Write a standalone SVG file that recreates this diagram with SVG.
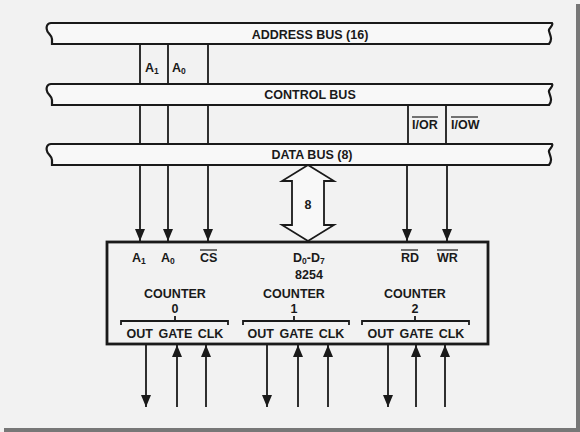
<svg xmlns="http://www.w3.org/2000/svg" width="580" height="432" viewBox="0 0 580 432">
<defs>
<style>
text{font-family:"Liberation Sans",Arial,sans-serif;font-weight:bold;fill:#1a1a1a;font-size:12.5px}
.c{text-anchor:middle}
.bus{fill:#f8f8f8;stroke:#1a1a1a;stroke-width:2.2}
.ln{stroke:#1a1a1a;stroke-width:1.8;fill:none}
.ov{stroke:#1a1a1a;stroke-width:1.2}
.sub{font-size:8.5px}
</style>
<marker id="ah" viewBox="0 0 12 12" refX="12" refY="6" markerWidth="12" markerHeight="12" markerUnits="userSpaceOnUse" orient="auto">
<path d="M0,1 L12,6 L0,11 Z" fill="#1a1a1a"/>
</marker>
</defs>
<rect width="580" height="432" fill="#f2f2f2"/>
<rect x="576" y="4" width="4" height="428" fill="#777"/>
<rect x="4" y="428" width="576" height="4" fill="#777"/>

<g id="address-bus">
<path class="bus" d="M51,23 L552,23 C554,26 548,28 549,31 C550,35 553,39 549,44 L52,44 L52,39 C52,35 47,33 47,30 C46,27 47,23 51,23 Z"/>
<text class="c" x="310" y="38.5">ADDRESS BUS (16)</text>
</g>
<g id="control-bus">
<path class="bus" d="M51,84 L552,84 C554,87 548,89 549,92 C550,96 553,100 549,105 L52,105 L52,100 C52,96 47,94 47,91 C46,88 47,84 51,84 Z"/>
<text class="c" x="310" y="98.5">CONTROL BUS</text>
</g>
<g id="data-bus">
<path class="bus" d="M51,144 L552,144 C554,147 548,149 549,152 C550,156 553,160 549,165 L52,165 L52,160 C52,156 47,154 47,151 C46,148 47,144 51,144 Z"/>
<text class="c" x="312" y="159">DATA BUS (8)</text>
</g>

<g id="chip-8254">
<rect x="107" y="242" width="381" height="102" fill="none" stroke="#1a1a1a" stroke-width="2.8"/>
<text x="132" y="262">A<tspan class="sub" dy="2">1</tspan></text>
<text x="161" y="262">A<tspan class="sub" dy="2">0</tspan></text>
<text x="200" y="262">CS</text>
<line class="ov" x1="200" y1="250" x2="217" y2="250"/>
<text x="293" y="262">D<tspan class="sub" dy="2">0</tspan><tspan dy="-2">-D</tspan><tspan class="sub" dy="2">7</tspan></text>
<text class="c" x="309" y="279">8254</text>
<text x="401" y="262">RD</text>
<line class="ov" x1="401" y1="250" x2="418" y2="250"/>
<text x="437" y="262">WR</text>
<line class="ov" x1="437" y1="250" x2="458" y2="250"/>

<text class="c" x="175" y="298">COUNTER</text>
<text class="c" x="175" y="313">0</text>
<text class="c" x="294" y="298">COUNTER</text>
<text class="c" x="294" y="313">1</text>
<text class="c" x="415" y="298">COUNTER</text>
<text class="c" x="415" y="313">2</text>

<path class="ln" stroke-width="1.3" d="M121,325 L121,321 L228,321 L228,325 M175,321 L175,316"/>
<path class="ln" stroke-width="1.3" d="M243,325 L243,321 L349,321 L349,325 M294,321 L294,316"/>
<path class="ln" stroke-width="1.3" d="M362,325 L362,321 L469,321 L469,325 M415,321 L415,316"/>
<text class="c" x="175" y="337.5" word-spacing="2">OUT GATE CLK</text>
<text class="c" x="296" y="337.5" word-spacing="2">OUT GATE CLK</text>
<text class="c" x="416" y="337.5" word-spacing="2">OUT GATE CLK</text>
</g>

<g id="connectors">
<line class="ln" x1="140" y1="44" x2="140" y2="84"/>
<line class="ln" x1="168" y1="44" x2="168" y2="84"/>
<line class="ln" x1="208" y1="44" x2="208" y2="84"/>
<line class="ln" x1="140" y1="105" x2="140" y2="144"/>
<line class="ln" x1="168" y1="105" x2="168" y2="144"/>
<line class="ln" x1="208" y1="105" x2="208" y2="144"/>
<line class="ln" x1="140" y1="165" x2="140" y2="241" marker-end="url(#ah)"/>
<line class="ln" x1="168" y1="165" x2="168" y2="241" marker-end="url(#ah)"/>
<line class="ln" x1="208" y1="165" x2="208" y2="241" marker-end="url(#ah)"/>
<line class="ln" x1="408" y1="105" x2="408" y2="144"/>
<line class="ln" x1="446" y1="105" x2="446" y2="144"/>
<line class="ln" x1="407" y1="165" x2="407" y2="241" marker-end="url(#ah)"/>
<line class="ln" x1="447" y1="165" x2="447" y2="241" marker-end="url(#ah)"/>
<text x="145" y="72">A<tspan class="sub" dy="2">1</tspan></text>
<text x="172" y="72">A<tspan class="sub" dy="2">0</tspan></text>
<text x="412" y="129">I/OR</text>
<line class="ov" x1="412" y1="117" x2="438" y2="117"/>
<text x="451" y="129">I/OW</text>
<line class="ov" x1="451" y1="117" x2="478" y2="117"/>
<path d="M308,165 L334,181 L324,181 L324,225 L334,225 L308,241 L282,225 L292,225 L292,181 L282,181 Z" fill="#f8f8f8" stroke="#1a1a1a" stroke-width="1.8" stroke-linejoin="miter"/>
<text class="c" x="308" y="209">8</text>
<line class="ln" x1="146" y1="345" x2="146" y2="407" marker-end="url(#ah)"/>
<line class="ln" x1="177" y1="407" x2="177" y2="345" marker-end="url(#ah)"/>
<line class="ln" x1="206" y1="407" x2="206" y2="345" marker-end="url(#ah)"/>
<line class="ln" x1="267" y1="345" x2="267" y2="407" marker-end="url(#ah)"/>
<line class="ln" x1="298" y1="407" x2="298" y2="345" marker-end="url(#ah)"/>
<line class="ln" x1="328" y1="407" x2="328" y2="345" marker-end="url(#ah)"/>
<line class="ln" x1="388" y1="345" x2="388" y2="407" marker-end="url(#ah)"/>
<line class="ln" x1="416" y1="407" x2="416" y2="345" marker-end="url(#ah)"/>
<line class="ln" x1="445" y1="407" x2="445" y2="345" marker-end="url(#ah)"/>
</g>
</svg>
